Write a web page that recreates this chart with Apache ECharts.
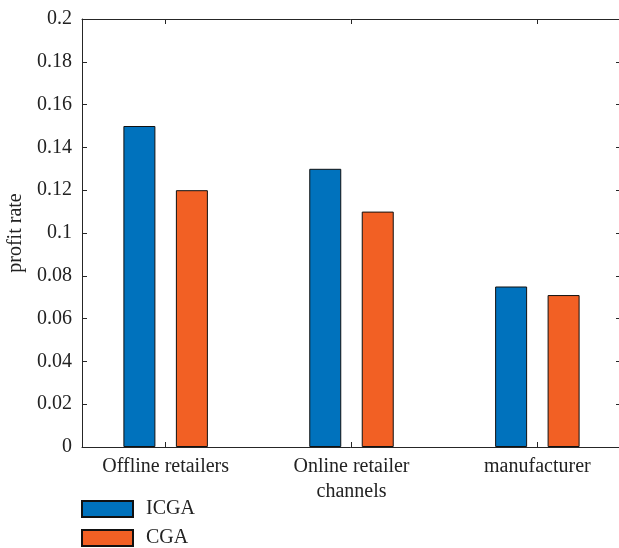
<!DOCTYPE html>
<html><head><meta charset="utf-8">
<script src="https://cdn.jsdelivr.net/npm/echarts@6/dist/echarts.min.js"></script>
<style>html,body{margin:0;padding:0;background:#fff}#c{width:619px;height:548px}</style>
</head><body><div id="c"></div>
<script>
const categories = ['Offline retailers', 'Online retailer\nchannels', 'manufacturer'];
const seriesNames = ['ICGA', 'CGA'];
const icga = [0.15, 0.13, 0.075];
const cga = [0.12, 0.11, 0.071];
const yTicks = [0, 0.02, 0.04, 0.06, 0.08, 0.1, 0.12, 0.14, 0.16, 0.18, 0.2];

const FONT = 'Liberation Serif';
const AX = '#262626';
const TXT = '#222';
const chart = echarts.init(document.getElementById('c'), null, {renderer: 'canvas'});
const xPos = categories.map((c, i) => i + 1);
const commonX = {
  type: 'value', min: 0.55, max: 3.45,
  axisLine: {show: true, onZero: false, lineStyle: {color: AX, width: 1}},
  splitLine: {show: false},
  axisTick: {show: true, inside: true, length: 5, customValues: xPos, lineStyle: {color: AX}},
};
chart.setOption({
  animation: false,
  grid: {left: 82, top: 19, bottom: 101, right: -2, containLabel: false, outerBoundsMode: 'none'},
  legend: {
    orient: 'vertical', left: 81, bottom: 0, padding: 0, itemWidth: 51, itemHeight: 16, itemGap: 9,
    icon: 'rect',
    textStyle: {fontFamily: FONT, fontSize: 20, lineHeight: 16, color: TXT, padding: [0, 0, 0, 8]},
    data: seriesNames
  },
  xAxis: [
    Object.assign({}, commonX, {
      position: 'bottom',
      axisLabel: {show: true, customValues: xPos, fontFamily: FONT, fontSize: 20, color: TXT, margin: 7, lineHeight: 25,
        formatter: v => categories[Math.round(v) - 1] || ''}
    }),
    Object.assign({}, commonX, {position: 'top', axisLabel: {show: false}})
  ],
  yAxis: [
    {
      type: 'value', min: 0, max: 0.2, interval: 0.02, position: 'left',
      name: 'profit rate', nameLocation: 'middle', nameGap: 55, nameRotate: 90,
      nameTextStyle: {fontFamily: FONT, fontSize: 20, color: TXT},
      axisLine: {show: true, lineStyle: {color: AX}},
      axisTick: {show: true, inside: true, length: 5, lineStyle: {color: AX}},
      splitLine: {show: false},
      axisLabel: {fontFamily: FONT, fontSize: 20, color: TXT, margin: 10,
        formatter: v => String(parseFloat(v.toFixed(2)))}
    },
    {
      type: 'value', min: 0, max: 0.2, interval: 0.02, position: 'right',
      axisLine: {show: true, lineStyle: {color: AX}},
      axisTick: {show: true, inside: true, length: 5, lineStyle: {color: AX}},
      splitLine: {show: false}, axisLabel: {show: false}
    }
  ],
  series: [
    {name: seriesNames[0], type: 'bar', barWidth: 32, barGap: '64%',
     itemStyle: {color: '#0072BD', borderColor: '#111', borderWidth: 1},
     data: icga.map((v, i) => [xPos[i], v])},
    {name: seriesNames[1], type: 'bar', barWidth: 32, barGap: '64%',
     itemStyle: {color: '#F26024', borderColor: '#111', borderWidth: 1},
     data: cga.map((v, i) => [xPos[i], v])}
  ]
});
</script></body></html>
